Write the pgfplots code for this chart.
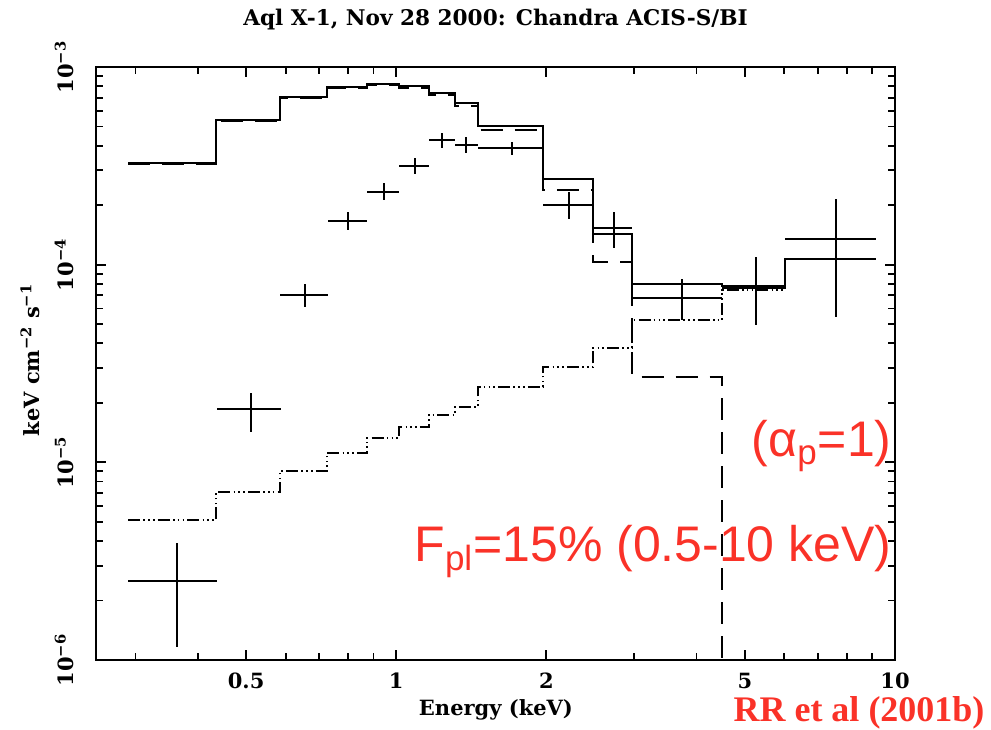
\documentclass[border=0pt]{standalone}
\usepackage{fontspec}
\usepackage{pgfplots}
\usepackage{pgfplotstable}
\pgfplotsset{compat=1.18}
\newfontfamily\pgfont{DejaVu Serif}
\newfontfamily\redfont{Liberation Sans}
\newfontfamily\timesfont{Liberation Serif}
\definecolor{annot}{RGB}{250,50,40}

% total model, left bin edges (last row closes the histogram)
\pgfplotstableread{
E      F
0.290  3.27e-4
0.436  5.39e-4
0.585  7.05e-4
0.727  7.95e-4
0.875  8.20e-4
1.014  8.01e-4
1.164  7.39e-4
1.313  6.57e-4
1.460  5.03e-4
1.970  2.71e-4
2.482  1.43e-4
2.971  7.98e-5
4.502  7.80e-5
6.020  1.07e-4
9.160  1.07e-4
}\total

% blackbody component (dashed)
\pgfplotstableread{
E      F
0.290  3.22e-4
0.436  5.32e-4
0.585  6.96e-4
0.727  7.84e-4
0.875  8.07e-4
1.014  7.86e-4
1.164  7.22e-4
1.313  6.38e-4
1.460  4.80e-4
1.970  2.39e-4
2.482  1.03e-4
2.971  2.70e-5
4.502  1.00e-7
}\bbody

% power law component (dash-dot)
\pgfplotstableread{
E      F
0.290  5.11e-6
0.436  7.09e-6
0.585  9.05e-6
0.727  1.116e-5
0.875  1.33e-5
1.014  1.51e-5
1.164  1.74e-5
1.313  1.91e-5
1.460  2.41e-5
1.970  3.04e-5
2.482  3.79e-5
2.971  5.25e-5
4.502  7.45e-5
6.020  1.07e-4
9.160  1.07e-4
}\plaw

% data: energy, flux, bin edges, flux limits
\pgfplotstableread{
E      F        Elo    Ehi    Flo       Fhi
0.364  2.51e-6  0.290  0.437  1.16e-6   3.91e-6
0.512  1.86e-5  0.437  0.588  1.43e-5   2.25e-5
0.657  7.03e-5  0.585  0.729  6.11e-5   7.99e-5
0.801  1.66e-4  0.729  0.875  1.50e-4   1.85e-4
0.946  2.33e-4  0.875  1.014  2.12e-4   2.59e-4
1.092  3.16e-4  1.014  1.164  2.88e-4   3.47e-4
1.236  4.27e-4  1.164  1.313  3.89e-4   4.64e-4
1.381  4.03e-4  1.313  1.460  3.67e-4   4.43e-4
1.708  3.89e-4  1.460  1.970  3.59e-4   4.17e-4
2.222  2.00e-4  1.970  2.482  1.70e-4   2.33e-4
2.735  1.53e-4  2.482  2.971  1.215e-4  1.85e-4
3.742  6.78e-5  2.971  4.502  5.25e-5   8.47e-5
5.265  7.62e-5  4.502  6.020  4.95e-5   1.094e-4
7.620  1.35e-4  6.020  9.160  5.44e-5   2.15e-4
}\spec

\begin{document}
\begin{tikzpicture}
\begin{axis}[
    xmode=log, ymode=log,
    scale only axis,
    width=399.5pt, height=296.5pt,
    xmin=0.25, xmax=10, ymin=1e-6, ymax=1e-3,
    axis line style={line width=1pt},
    tick align=inside,
    major tick length=5pt, minor tick length=3.5pt,
    every tick/.style={black, line width=0.9pt},
    xtick={0.5,1,2,5,10},
    xticklabels={{\pgfont\bfseries 0.5},{\pgfont\bfseries 1},{\pgfont\bfseries 2},{\pgfont\bfseries 5},{\pgfont\bfseries 10}},
    minor xtick={0.3,0.4,0.6,0.7,0.8,0.9,3,4,6,7,8,9},
    ytick={1e-6,1e-5,1e-4,1e-3},
    yticklabels={{\pgfont\bfseries 10\textsuperscript{−6}},{\pgfont\bfseries 10\textsuperscript{−5}},{\pgfont\bfseries 10\textsuperscript{−4}},{\pgfont\bfseries 10\textsuperscript{−3}}},
    minor ytick={2e-6,3e-6,4e-6,5e-6,6e-6,7e-6,8e-6,9e-6,2e-5,3e-5,4e-5,5e-5,6e-5,7e-5,8e-5,9e-5,2e-4,3e-4,4e-4,5e-4,6e-4,7e-4,8e-4,9e-4},
    xticklabel style={font=\fontsize{10.5}{12}\selectfont, yshift=-3pt},
    yticklabel style={font=\fontsize{10.5}{12}\selectfont, rotate=90, anchor=south, yshift=7.5pt},
    clip=true,
]
\addplot[const plot, black, line width=1pt] table[x=E, y=F] {\total};
\addplot[const plot, black, line width=1pt, dash pattern=on 11pt off 6pt] table[x=E, y=F] {\bbody};
\addplot[const plot, black, line width=1pt,
    dash pattern=on 6pt off 1.6pt on 0.8pt off 1.6pt on 0.8pt off 1.6pt on 0.8pt off 1.6pt] table[x=E, y=F] {\plaw};
\addplot[draw=none, mark=none,
    error bars/.cd, x dir=both, x explicit, y dir=both, y explicit,
    error mark=none, error bar style={draw=black, solid, line width=1pt}]
    table[x=E, y=F,
      x error plus expr=\thisrow{Ehi}-\thisrow{E},
      x error minus expr=\thisrow{E}-\thisrow{Elo},
      y error plus expr=\thisrow{Fhi}-\thisrow{F},
      y error minus expr=\thisrow{F}-\thisrow{Flo}] {\spec};
\coordinate (bl) at (rel axis cs:0,0);
\coordinate (tr) at (rel axis cs:1,1);
\end{axis}

\node[font=\pgfont\bfseries\fontsize{10.8}{13}\selectfont] at ([shift={(199.75pt,320pt)}]bl) {Aql X-1, Nov 28 2000: Chandra ACIS-S/BI};
\node[font=\pgfont\bfseries\fontsize{10.5}{12}\selectfont] at ([shift={(200pt,-25pt)}]bl) {Energy (keV)};
\node[font=\pgfont\bfseries\fontsize{10.5}{12}\selectfont, rotate=90] at ([shift={(-33pt,150pt)}]bl) {keV cm\textsuperscript{−2} s\textsuperscript{−1}};
\node[font=\redfont\fontsize{25}{30}\selectfont, text=annot, anchor=base east, inner sep=0pt] at ([shift={(398pt,101.5pt)}]bl) {(α\textsubscript{p}=1)};
\node[font=\redfont\fontsize{25}{30}\selectfont, text=annot, anchor=base east, inner sep=0pt] at ([shift={(398pt,49pt)}]bl) {F\textsubscript{pl}=15\% (0.5-10 keV)};
\node[font=\timesfont\bfseries\fontsize{18}{22}\selectfont, text=annot, anchor=base east, inner sep=0pt] at ([shift={(444.5pt,-31pt)}]bl) {RR et al (2001b)};

\pgfresetboundingbox
\path[use as bounding box] ([shift={(-48pt,-35pt)}]bl) rectangle ([shift={(48pt,33.5pt)}]tr);
\end{tikzpicture}
\end{document}
